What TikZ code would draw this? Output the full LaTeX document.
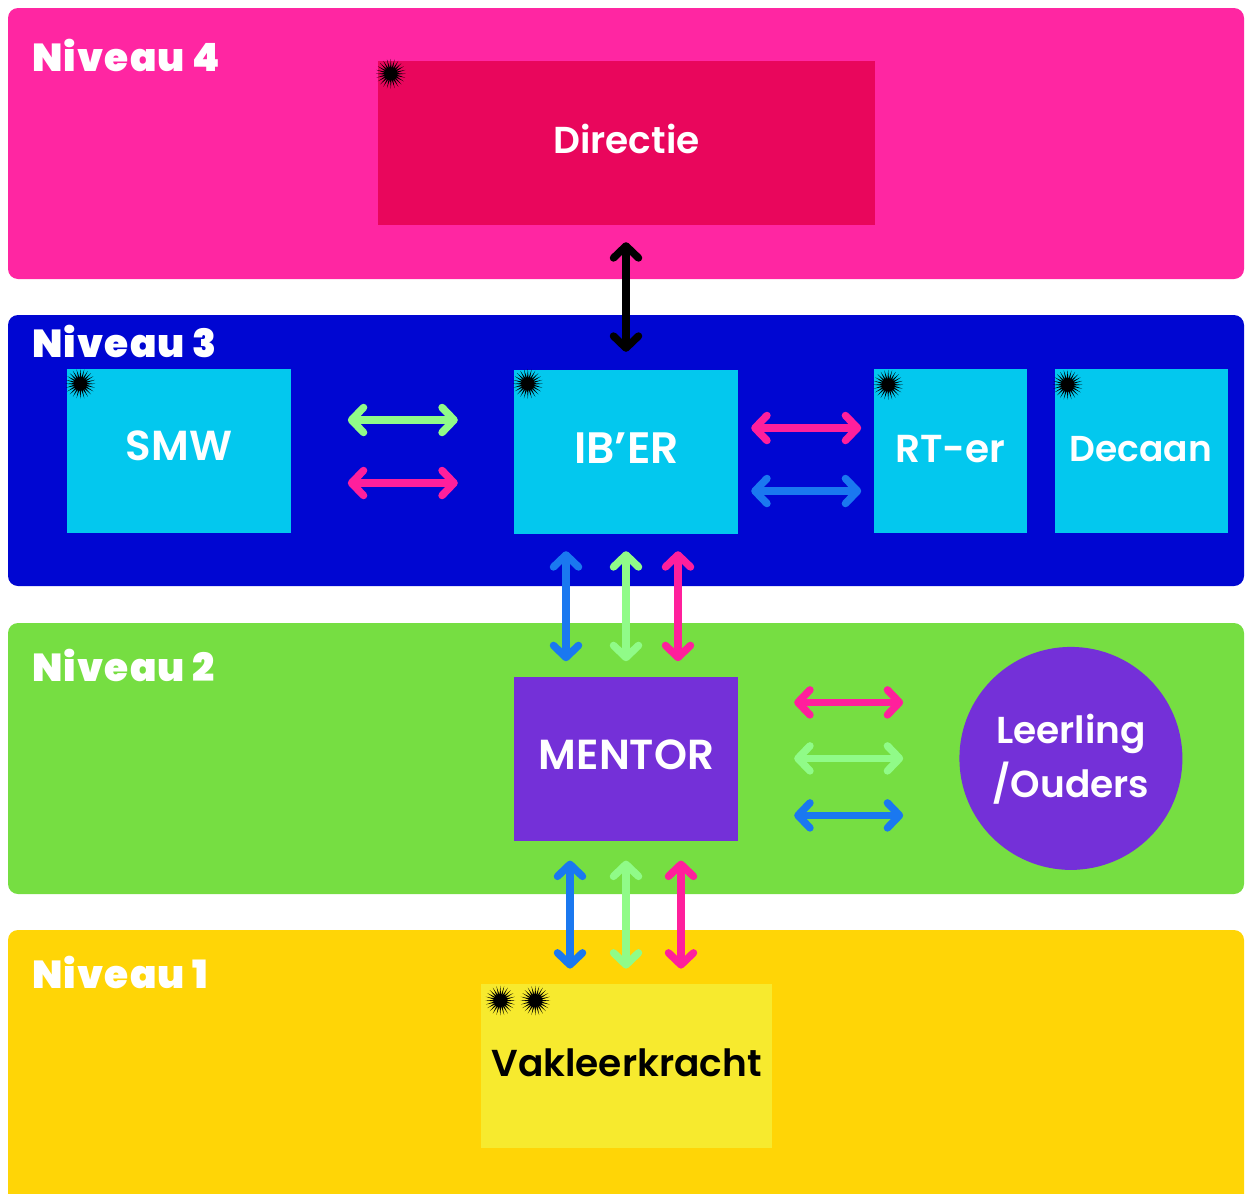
\documentclass[tikz,border=0pt]{standalone}
\usepackage{fontspec}
\setmainfont{Poppins SemiBold}
\newfontfamily\kopfont[LetterSpace=3]{Poppins Black}
\usetikzlibrary{positioning, arrows.meta, shapes.geometric}
\definecolor{niv4}{HTML}{FF26A2}
\definecolor{niv3}{HTML}{0006D2}
\definecolor{niv2}{HTML}{76DE42}
\definecolor{niv1}{HTML}{FFD506}
\definecolor{rood}{HTML}{E9065C}
\definecolor{licht}{HTML}{03C8EE}
\definecolor{paars}{HTML}{7430D8}
\definecolor{geel}{HTML}{F7EA2E}
\definecolor{pijlgroen}{HTML}{90FB88}
\definecolor{pijlblauw}{HTML}{1A78F0}
\definecolor{pijlroze}{HTML}{FF1F9C}
\tikzset{
	band/.style={rectangle, rounded corners=10pt, minimum width=1236pt, inner sep=0pt},
	kop/.style={anchor=west, inner sep=0pt, text=white, font=\kopfont\fontsize{39}{39}\selectfont},
	vak/.style={rectangle, inner sep=0pt, text=white, font=\fontsize{37.5}{37.5}\selectfont},
	hoog/.style={font=\fontsize{42}{42}\selectfont},
	burst/.style={star, star points=24, star point ratio=2.6, fill=black, inner sep=0pt, minimum size=30pt},
	dubbel/.style={{Straight Barb[length=12pt,width=25pt,round]}-{Straight Barb[length=12pt,width=25pt,round]}, line width=7.5pt, line cap=round},
}

\begin{document}
\begin{tikzpicture}[x=1pt, y=-1pt]
		\clip (0,0) rectangle (1251,1194);
		\node[band, fill=niv4, minimum height=271pt] (n_4) at (626,143.5) {};
		\node[band, fill=niv3, minimum height=271pt] (n_3) at (626,450.5) {};
		\node[band, fill=niv2, minimum height=271pt] (n_2) at (626,758.5) {};
		\node[band, fill=niv1, minimum height=300pt] (n_1) at (626,1080) {};
		
		\node[kop] (k_4) at (32,55) {Niveau 4};
		\node[kop] (k_3) at (32,341) {Niveau 3};
		\node[kop] (k_2) at (32,665) {Niveau 2};
		\node[kop] (k_1) at (32,972) {Niveau 1};
		
		\node[vak, fill=rood, minimum width=497pt, minimum height=164pt] (directie) at (626.5,143) {};
		\node[vak, fill=licht, minimum width=224pt, minimum height=164pt] (iber) at (626,452) {};
		\node[vak, fill=licht, minimum width=224pt, minimum height=164pt] (smw) [left=223pt of iber, yshift=1pt] {};
		\node[vak, fill=licht, minimum width=153pt, minimum height=164pt] (rter) [right=136pt of iber, yshift=1pt] {};
		\node[vak, fill=licht, minimum width=173pt, minimum height=164pt] (decaan) [right=27pt of rter] {};
		\node[vak, fill=paars, minimum width=224pt, minimum height=164pt] (mentor) [below=143pt of iber] {};
		\node[vak, fill=geel, minimum width=291pt, minimum height=164pt] (leraar) [below=142pt of mentor] {};
		\node[circle, fill=paars, inner sep=0pt, minimum size=223pt] (leerling) [right=221pt of mentor, yshift=1pt] {};
		
		\node[vak] (t_directie) at (626.5,139) {Directie};
		\node[vak, font=\fontsize{44}{44}\selectfont] (t_iber) at (626.5,448) {IB\symbol{39}ER};
		\node[vak, hoog] (t_smw) at (179,446) {SMW};
		\node[vak, font=\fontsize{39}{39}\selectfont] (t_rter) at (950.5,449) {RT-er};
		\node[vak, font=\fontsize{36}{36}\selectfont] (t_decaan) at (1141,449) {Decaan};
		\node[vak, hoog] (t_mentor) at (626.5,755) {MENTOR};
		\node[vak, text=black] (t_leraar) at (626.5,1063) {Vakleerkracht};
		\node[vak, align=center] (t_leerling) at (1071,759.5) {Leerling\\[7pt]/Ouders};
		
		\node[burst] (b_1) at ([xshift=13pt,yshift=-13pt]directie.north west) {};
		\node[burst] (b_2) at ([xshift=14pt,yshift=-14pt]iber.north west) {};
		\node[burst] (b_3) at ([xshift=14pt,yshift=-15pt]smw.north west) {};
		\node[burst] (b_4) at ([xshift=14pt,yshift=-16pt]rter.north west) {};
		\node[burst] (b_5) at ([xshift=13pt,yshift=-16pt]decaan.north west) {};
		\node[burst] (b_6) at ([xshift=20pt,yshift=-17pt]leraar.north west) {};
		\node[burst] (b_7) at ([xshift=55pt,yshift=-17pt]leraar.north west) {};
		
		\path[dubbel, shorten <=17pt, shorten >=18pt]
		([xshift=-.5pt]directie.south) edge [black] (iber.north);
		\path[dubbel, shorten <=57pt, shorten >=56pt]
		([yshift=31pt]smw.east) edge [pijlgroen] ([yshift=32pt]iber.west)
		([yshift=-32pt]smw.east) edge [pijlroze] ([yshift=-31pt]iber.west);
		\path[dubbel, shorten <=13pt, shorten >=13pt]
		([yshift=24pt]iber.east) edge [pijlroze] ([yshift=23pt]rter.west)
		([yshift=-39pt]iber.east) edge [pijlblauw] ([yshift=-40pt]rter.west);
		\path[dubbel, shorten <=17pt, shorten >=16pt]
		([xshift=-60pt]iber.south) edge [pijlblauw] ([xshift=-60pt]mentor.north)
		(iber.south) edge [pijlgroen] (mentor.north)
		([xshift=52pt]iber.south) edge [pijlroze] ([xshift=52pt]mentor.north);
		\path[dubbel, shorten <=56pt, shorten >=56pt]
		([yshift=57pt]mentor.east) edge [pijlroze] ([yshift=56pt]leerling.west)
		([yshift=1pt]mentor.east) edge [pijlgroen] (leerling.west)
		([yshift=-56pt]mentor.east) edge [pijlblauw] ([yshift=-57pt]leerling.west);
		\path[dubbel, shorten <=19pt, shorten >=15pt]
		([xshift=-56pt]mentor.south) edge [pijlblauw] ([xshift=-56pt]leraar.north)
		(mentor.south) edge [pijlgroen] (leraar.north)
		([xshift=55pt]mentor.south) edge [pijlroze] ([xshift=55pt]leraar.north);
\end{tikzpicture}
\end{document}
